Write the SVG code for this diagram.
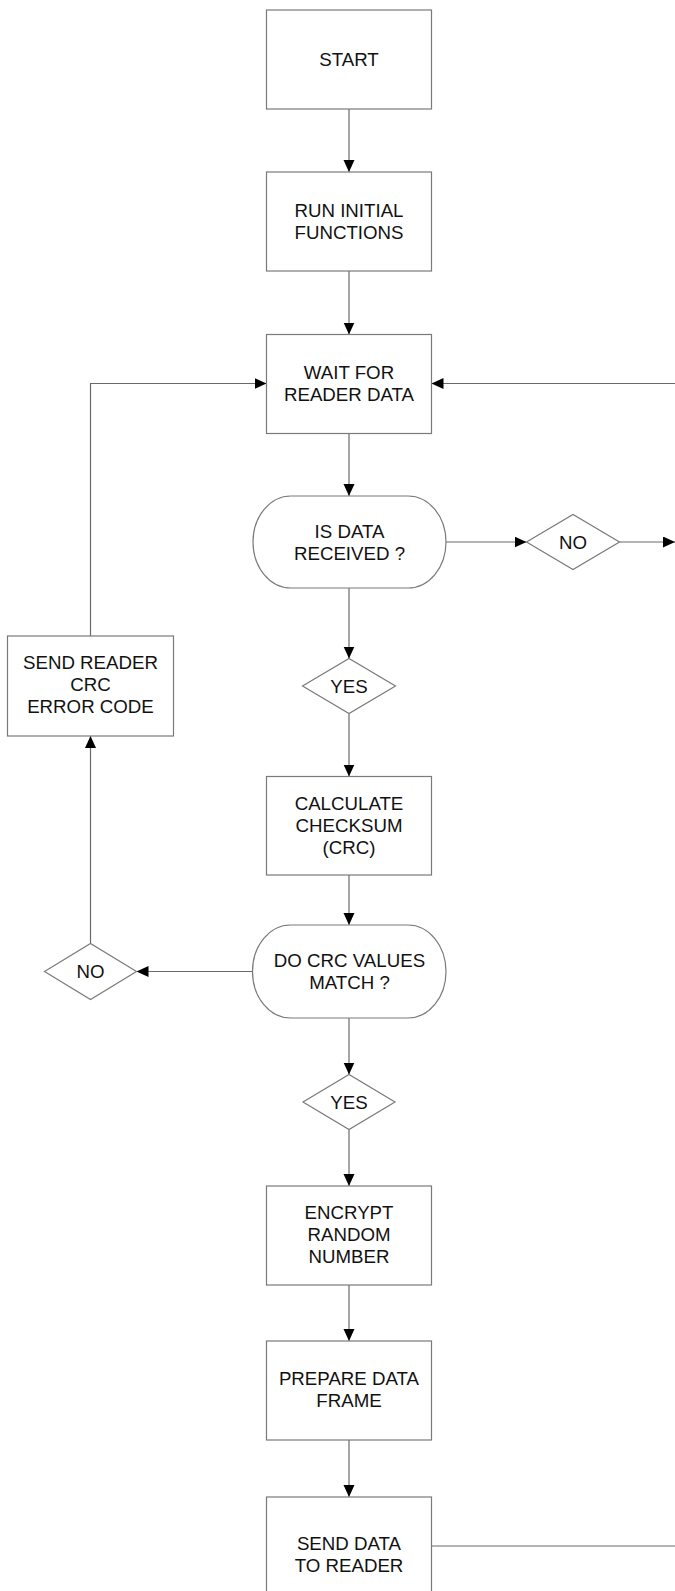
<svg xmlns="http://www.w3.org/2000/svg" width="675" height="1591" viewBox="0 0 675 1591">
<defs>
<marker id="arr" markerUnits="userSpaceOnUse" markerWidth="12" markerHeight="12" refX="12" refY="5.5" orient="auto">
<path d="M0,0 L12,5.5 L0,11 z" fill="#000"/>
</marker>
<style>
.box{fill:#fff;stroke:#7a7a7a;stroke-width:1.2}
.t{font-family:"Liberation Sans",Arial,sans-serif;font-size:18.7px;fill:#111;text-anchor:middle}
.c{fill:none;stroke:#6a6a6a;stroke-width:1.2}
.ca{fill:none;stroke:#6a6a6a;stroke-width:1.2;marker-end:url(#arr)}
</style>
</defs>
<rect width="675" height="1591" fill="#fff"/>
<g id="connectors">
<line class="ca" x1="349" y1="109" x2="349" y2="172"/>
<line class="ca" x1="349" y1="271" x2="349" y2="334.5"/>
<line class="ca" x1="349" y1="433.5" x2="349" y2="496"/>
<line class="ca" x1="349" y1="588" x2="349" y2="658.5"/>
<line class="ca" x1="349" y1="713.5" x2="349" y2="776.5"/>
<line class="ca" x1="349" y1="875" x2="349" y2="925"/>
<line class="ca" x1="349" y1="1018" x2="349" y2="1074.5"/>
<line class="ca" x1="349" y1="1129.5" x2="349" y2="1186"/>
<line class="ca" x1="349" y1="1285" x2="349" y2="1341"/>
<line class="ca" x1="349" y1="1440" x2="349" y2="1497"/>
<line class="ca" x1="446" y1="542" x2="526.5" y2="542"/>
<line class="ca" x1="619.5" y1="542" x2="675" y2="542"/>
<line class="ca" x1="675" y1="383.5" x2="431.5" y2="383.5"/>
<line class="ca" x1="252.5" y1="971.5" x2="136.5" y2="971.5"/>
<line class="ca" x1="90.5" y1="943.5" x2="90.5" y2="736"/>
<polyline class="ca" points="90.5,636 90.5,383.5 266.5,383.5"/>
<line class="c" x1="431.5" y1="1546" x2="675" y2="1546"/>
</g>
<g id="start">
<rect class="box" x="266.5" y="10" width="165" height="99"/>
<text class="t" x="349" y="65.5">START</text>
</g>
<g id="run">
<rect class="box" x="266.5" y="172" width="165" height="99"/>
<text class="t" x="349" y="216.5">RUN INITIAL</text>
<text class="t" x="349" y="238.5">FUNCTIONS</text>
</g>
<g id="wait">
<rect class="box" x="266.5" y="334.5" width="165" height="99"/>
<text class="t" x="349" y="379">WAIT FOR</text>
<text class="t" x="349" y="401">READER DATA</text>
</g>
<g id="isdata">
<rect class="box" x="253" y="496" width="193" height="92" rx="38" ry="46"/>
<text class="t" x="349.5" y="537.5">IS DATA</text>
<text class="t" x="349.5" y="559.5">RECEIVED ?</text>
</g>
<g id="no1">
<polygon class="box" points="526.5,542 573,514.5 619.5,542 573,569.5"/>
<text class="t" x="573" y="548.5">NO</text>
</g>
<g id="yes1">
<polygon class="box" points="302.5,686 349,658.5 395.5,686 349,713.5"/>
<text class="t" x="349" y="692.5">YES</text>
</g>
<g id="calc">
<rect class="box" x="266.5" y="776.5" width="165" height="98.5"/>
<text class="t" x="349" y="810">CALCULATE</text>
<text class="t" x="349" y="832">CHECKSUM</text>
<text class="t" x="349" y="854">(CRC)</text>
</g>
<g id="crcmatch">
<rect class="box" x="252.5" y="925" width="193.5" height="93" rx="38" ry="46.5"/>
<text class="t" x="349.5" y="967">DO CRC VALUES</text>
<text class="t" x="349.5" y="989">MATCH ?</text>
</g>
<g id="no2">
<polygon class="box" points="44.5,971.5 90.5,943.5 136.5,971.5 90.5,999.5"/>
<text class="t" x="90.5" y="978">NO</text>
</g>
<g id="senderr">
<rect class="box" x="7.5" y="636" width="166" height="100"/>
<text class="t" x="90.5" y="669">SEND READER</text>
<text class="t" x="90.5" y="691">CRC</text>
<text class="t" x="90.5" y="713">ERROR CODE</text>
</g>
<g id="yes2">
<polygon class="box" points="303,1102 349,1074.5 395,1102 349,1129.5"/>
<text class="t" x="349" y="1108.5">YES</text>
</g>
<g id="encrypt">
<rect class="box" x="266.5" y="1186" width="165" height="99"/>
<text class="t" x="349" y="1219">ENCRYPT</text>
<text class="t" x="349" y="1241">RANDOM</text>
<text class="t" x="349" y="1263">NUMBER</text>
</g>
<g id="prepare">
<rect class="box" x="266.5" y="1341" width="165" height="99"/>
<text class="t" x="349" y="1385">PREPARE DATA</text>
<text class="t" x="349" y="1407">FRAME</text>
</g>
<g id="senddata">
<rect class="box" x="266.5" y="1497" width="165" height="99"/>
<text class="t" x="349" y="1550">SEND DATA</text>
<text class="t" x="349" y="1572">TO READER</text>
</g>
</svg>
